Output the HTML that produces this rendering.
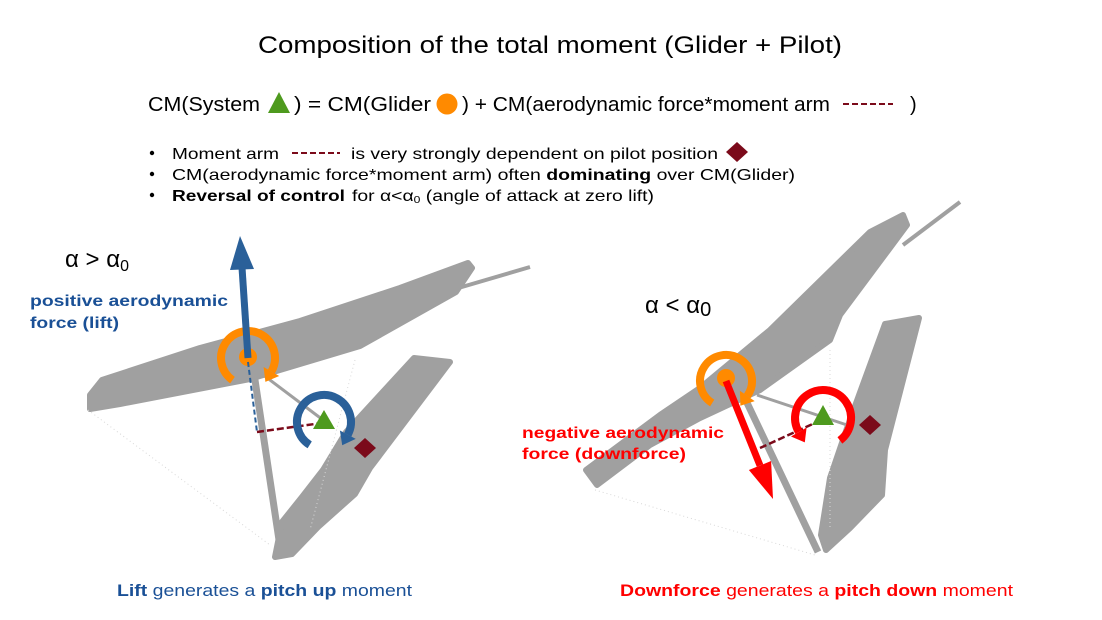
<!DOCTYPE html>
<html><head><meta charset="utf-8"><style>
html,body{margin:0;padding:0;background:#fff;width:1102px;height:620px;overflow:hidden}
text{font-family:"Liberation Sans",sans-serif}
</style></head><body>
<svg width="1102" height="620" viewBox="0 0 1102 620" xmlns="http://www.w3.org/2000/svg">
<text x="258" y="53" font-size="24" textLength="584" lengthAdjust="spacingAndGlyphs" fill="#000">Composition of the total moment (Glider + Pilot)</text>
<g font-size="20" fill="#000">
<text x="148" y="111" textLength="112" lengthAdjust="spacingAndGlyphs">CM(System</text>
<polygon points="279,92 290,113 268,113" fill="#4e9a1e"/>
<text x="294" y="111" textLength="137" lengthAdjust="spacingAndGlyphs">) = CM(Glider</text>
<circle cx="447" cy="104" r="10.5" fill="#ff8a00"/>
<text x="462" y="111" textLength="368" lengthAdjust="spacingAndGlyphs">) + CM(aerodynamic force*moment arm</text>
<line x1="843" y1="104" x2="893" y2="104" stroke="#7b0a1a" stroke-width="2" stroke-dasharray="6,3"/>
<text x="910" y="111">)</text>
</g>
<g font-size="16" fill="#000">
<circle cx="152" cy="153" r="2.2"/><circle cx="152" cy="174" r="2.2"/><circle cx="152" cy="195" r="2.2"/>
<text x="172" y="159" textLength="107" lengthAdjust="spacingAndGlyphs">Moment arm</text>
<line x1="292" y1="153" x2="340" y2="153" stroke="#7b0a1a" stroke-width="2" stroke-dasharray="6,3"/>
<text x="351" y="159" textLength="367" lengthAdjust="spacingAndGlyphs">is very strongly dependent on pilot position</text>
<polygon points="737,142 748,152 737,162 726,152" fill="#7b0a1a"/>
<text x="172" y="180" textLength="623" lengthAdjust="spacingAndGlyphs">CM(aerodynamic force*moment arm) often <tspan font-weight="bold">dominating</tspan> over CM(Glider)</text>
<text x="172" y="201" font-weight="bold" textLength="173" lengthAdjust="spacingAndGlyphs">Reversal of control</text>
<text x="352" y="201" textLength="302" lengthAdjust="spacingAndGlyphs">for α&lt;α<tspan font-size="10" dy="2">0</tspan><tspan dy="-2"> (angle of attack at zero lift)</tspan></text>
</g>

<g fill="#a0a0a0" stroke="#a0a0a0" stroke-width="6" stroke-linejoin="round">
<polygon points="90,395 102,380 200,348 300,321 400,288 468,263 472,268 456,292 360,346 250,379 120,404 90,409"/>
<polygon points="414,358 450,362 370,468 355,494 318,527 292,554 275,557 282,522 302,497 323,470 346,432"/>
</g>
<g stroke="#a0a0a0">
<line x1="455" y1="289" x2="530" y2="267" stroke-width="4"/>
<line x1="252" y1="360" x2="279" y2="540" stroke-width="7"/>
<line x1="262" y1="374" x2="327" y2="423" stroke-width="3"/>
</g>
<g stroke="#d8d8d8" stroke-width="1" stroke-dasharray="1,3" fill="none">
<line x1="88" y1="410" x2="270" y2="545"/><line x1="355" y1="360" x2="310" y2="530"/>
</g>
<path d="M232.5,380.1 A27,27 0 1 1 271.4,371.5" fill="none" stroke="#ff8a00" stroke-width="8"/>
<polygon points="265.4,381.9 279.2,376 263.6,367" fill="#ff8a00"/>
<circle cx="248" cy="357" r="9" fill="#ff8a00"/>
<line x1="248" y1="358" x2="242.1" y2="269" stroke="#2a6099" stroke-width="7"/>
<polygon points="240,236 254,269 230,270" fill="#2a6099"/>
<line x1="248" y1="362" x2="257" y2="432" stroke="#2a6099" stroke-width="2" stroke-dasharray="5,3"/>
<line x1="257" y1="432" x2="322" y2="423" stroke="#7b0a1a" stroke-width="2.5" stroke-dasharray="7,3"/>
<path d="M309.7,444.9 A27,27 0 1 1 347.8,434.7" fill="none" stroke="#2a6099" stroke-width="8"/>
<polygon points="342.2,445.3 355.7,438.9 339.9,430.5" fill="#2a6099"/>
<polygon points="324,410 335,429 313,429" fill="#4e9a1e"/>
<polygon points="365,438 376,448 365,458 354,448" fill="#7b0a1a"/>

<text x="65" y="267" font-size="24" fill="#000">α &gt; α<tspan font-size="16" dy="4">0</tspan></text>
<g font-size="16" font-weight="bold" fill="#1a5096">
<text x="30" y="306" textLength="198" lengthAdjust="spacingAndGlyphs">positive aerodynamic</text>
<text x="30" y="328" textLength="89" lengthAdjust="spacingAndGlyphs">force (lift)</text>
</g>

<g fill="#a0a0a0" stroke="#a0a0a0" stroke-width="6" stroke-linejoin="round">
<polygon points="586,470 660,415 700,388 770,330 870,232 903,215 907,225 840,315 830,340 760,390 700,418 650,445 597,485"/>
<polygon points="885,324 919,318 885,450 882,495 850,528 826,550 821,535 830,478 847,428"/>
</g>
<g stroke="#a0a0a0">
<line x1="903" y1="245" x2="960" y2="202" stroke-width="4"/>
<line x1="740" y1="388" x2="818" y2="552" stroke-width="7"/>
<line x1="757" y1="395" x2="847" y2="425" stroke-width="3"/>
</g>
<g stroke="#d8d8d8" stroke-width="1" stroke-dasharray="1,3" fill="none">
<line x1="595" y1="490" x2="815" y2="555"/><line x1="830" y1="350" x2="830" y2="530"/>
</g>
<path d="M712.2,403 A26,26 0 1 1 747.3,395.9" fill="none" stroke="#ff8a00" stroke-width="8"/>
<polygon points="740.4,405.7 754.7,401.1 739.9,390.7" fill="#ff8a00"/>
<circle cx="726" cy="378" r="9" fill="#ff8a00"/>
<line x1="726" y1="381" x2="760" y2="465.5" stroke="#ff0000" stroke-width="7"/>
<polygon points="773,499 771.1,461 748.9,470" fill="#ff0000"/>
<line x1="760" y1="448" x2="817" y2="422" stroke="#7b0a1a" stroke-width="2.5" stroke-dasharray="7,3"/>
<path d="M839.9,440.4 A28,28 0 1 0 798.8,432" fill="none" stroke="#ff0000" stroke-width="8"/>
<polygon points="804.8,442.4 791,436.5 806.6,427.5" fill="#ff0000"/>
<polygon points="823,405 834,425 812,425" fill="#4e9a1e"/>
<polygon points="870,415 881,425 870,435 859,425" fill="#7b0a1a"/>

<text x="645" y="313" font-size="24" fill="#000">α &lt; α<tspan font-size="20" dy="3">0</tspan></text>
<g font-size="16" font-weight="bold" fill="#ff0000">
<text x="522" y="438" textLength="202" lengthAdjust="spacingAndGlyphs">negative aerodynamic</text>
<text x="522" y="459" textLength="164" lengthAdjust="spacingAndGlyphs">force (downforce)</text>
</g>

<text x="117" y="596" font-size="17" fill="#1a5096" textLength="295" lengthAdjust="spacingAndGlyphs"><tspan font-weight="bold">Lift</tspan> generates a <tspan font-weight="bold">pitch up</tspan> moment</text>
<text x="620" y="596" font-size="17" fill="#ff0000" textLength="393" lengthAdjust="spacingAndGlyphs"><tspan font-weight="bold">Downforce</tspan> generates a <tspan font-weight="bold">pitch down</tspan> moment</text>
</svg>
</body></html>
